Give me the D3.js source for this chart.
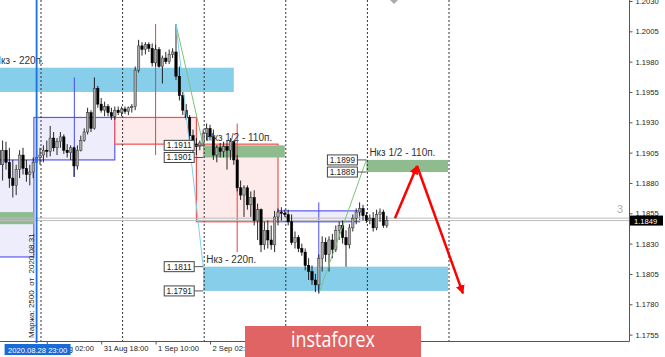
<!DOCTYPE html>
<html>
<head>
<meta charset="utf-8">
<script src="https://cdn.jsdelivr.net/npm/d3@7"></script>
<style>
body { margin: 0; background: #fff; overflow: hidden; }
svg { display: block; font-family: "Liberation Sans", Arial, sans-serif; }
</style>
</head>
<body>
<svg id="chart" width="665" height="357"></svg>
<script>
// EURUSD H1, first bar = 2020.08.28 12:00
const open = [
  1.1907, 1.1895, 1.1907, 1.1897, 1.1884, 1.1878, 1.1891, 1.1903, 1.1892, 1.1887, 1.1889, 1.1897,
  1.1901, 1.1903, 1.1907, 1.1906, 1.1917, 1.1909, 1.1914, 1.1918, 1.1907, 1.1905, 1.1909, 1.1894,
  1.1907, 1.1915, 1.1922, 1.1938, 1.1925, 1.1958, 1.1945, 1.1940, 1.1943, 1.1938, 1.1935, 1.1940,
  1.1938, 1.1941, 1.1939, 1.1942, 1.1943, 1.1973, 1.1993, 1.1990, 1.1994, 1.1991, 1.1979, 1.1990,
  1.1976, 1.1983, 1.1980, 1.1986, 1.1988, 1.1968, 1.1952, 1.1940, 1.1934, 1.1919, 1.1912, 1.1910,
  1.1913, 1.1921, 1.1925, 1.1918, 1.1903, 1.1909, 1.1906, 1.1910, 1.1907, 1.1914, 1.1899, 1.1876,
  1.1870, 1.1876, 1.1862, 1.1868, 1.1849, 1.1858, 1.1829, 1.1841, 1.1833, 1.1829, 1.1852, 1.1856,
  1.1855, 1.1854, 1.1848, 1.1831, 1.1835, 1.1826, 1.1823, 1.1812, 1.1807, 1.1800, 1.1796, 1.1818,
  1.1831, 1.1821, 1.1833, 1.1825, 1.1841, 1.1845, 1.1835, 1.1829, 1.1843, 1.1851, 1.1856, 1.1859,
  1.1853, 1.1849, 1.1851, 1.1843, 1.1854, 1.1856, 1.1845
];
const high = [
  1.1920, 1.1915, 1.1914, 1.1909, 1.1899, 1.1895, 1.1907, 1.1909, 1.1899, 1.1895, 1.1901, 1.1907,
  1.1909, 1.1911, 1.1915, 1.1927, 1.1922, 1.1917, 1.1922, 1.1920, 1.1912, 1.1911, 1.1910, 1.1911,
  1.1919, 1.1925, 1.1942, 1.1940, 1.1967, 1.1960, 1.1950, 1.1947, 1.1945, 1.1942, 1.1943, 1.1943,
  1.1943, 1.1943, 1.1943, 1.1945, 1.1976, 1.1998, 1.1996, 1.1996, 1.1996, 1.1995, 1.1994, 1.1992,
  1.1985, 1.1988, 1.1990, 1.1991, 1.2011, 1.1976, 1.1955, 1.1945, 1.1936, 1.1924, 1.1917, 1.1915,
  1.1924, 1.1929, 1.1928, 1.1924, 1.1911, 1.1913, 1.1914, 1.1915, 1.1917, 1.1915, 1.1903, 1.1882,
  1.1878, 1.1878, 1.1873, 1.1874, 1.1863, 1.1859, 1.1848, 1.1849, 1.1845, 1.1857, 1.1859, 1.1860,
  1.1858, 1.1858, 1.1854, 1.1840, 1.1837, 1.1830, 1.1826, 1.1818, 1.1812, 1.1805, 1.1821, 1.1836,
  1.1835, 1.1836, 1.1838, 1.1845, 1.1848, 1.1849, 1.1841, 1.1846, 1.1854, 1.1859, 1.1864, 1.1862,
  1.1856, 1.1854, 1.1856, 1.1858, 1.1859, 1.1858, 1.1853
];
const low = [
  1.1887, 1.1882, 1.1891, 1.1876, 1.1868, 1.1870, 1.1884, 1.1887, 1.1881, 1.1878, 1.1884, 1.1891,
  1.1895, 1.1897, 1.1901, 1.1902, 1.1906, 1.1903, 1.1909, 1.1904, 1.1901, 1.1899, 1.1885, 1.1891,
  1.1906, 1.1914, 1.1920, 1.1922, 1.1924, 1.1942, 1.1938, 1.1935, 1.1935, 1.1932, 1.1932, 1.1936,
  1.1935, 1.1937, 1.1936, 1.1938, 1.1940, 1.1971, 1.1985, 1.1986, 1.1988, 1.1976, 1.1976, 1.1975,
  1.1962, 1.1978, 1.1978, 1.1983, 1.1965, 1.1948, 1.1936, 1.1932, 1.1915, 1.1905, 1.1903, 1.1907,
  1.1910, 1.1915, 1.1915, 1.1899, 1.1897, 1.1901, 1.1901, 1.1891, 1.1899, 1.1895, 1.1873, 1.1866,
  1.1852, 1.1858, 1.1852, 1.1845, 1.1833, 1.1823, 1.1825, 1.1826, 1.1825, 1.1823, 1.1845, 1.1849,
  1.1852, 1.1845, 1.1829, 1.1826, 1.1823, 1.1820, 1.1808, 1.1800, 1.1796, 1.1790, 1.1789, 1.1807,
  1.1815, 1.1807, 1.1818, 1.1823, 1.1833, 1.1830, 1.1811, 1.1826, 1.1840, 1.1846, 1.1853, 1.1849,
  1.1847, 1.1846, 1.1840, 1.1841, 1.1848, 1.1843, 1.1843
];
const close = [
  1.1895, 1.1907, 1.1897, 1.1884, 1.1878, 1.1891, 1.1903, 1.1892, 1.1887, 1.1889, 1.1897, 1.1901,
  1.1903, 1.1907, 1.1906, 1.1917, 1.1909, 1.1914, 1.1918, 1.1907, 1.1905, 1.1909, 1.1894, 1.1907,
  1.1915, 1.1922, 1.1938, 1.1925, 1.1958, 1.1945, 1.1940, 1.1943, 1.1938, 1.1935, 1.1940, 1.1938,
  1.1941, 1.1939, 1.1942, 1.1943, 1.1973, 1.1993, 1.1990, 1.1994, 1.1991, 1.1979, 1.1990, 1.1976,
  1.1983, 1.1980, 1.1986, 1.1988, 1.1968, 1.1952, 1.1940, 1.1934, 1.1919, 1.1912, 1.1910, 1.1913,
  1.1921, 1.1925, 1.1918, 1.1903, 1.1909, 1.1906, 1.1910, 1.1907, 1.1914, 1.1899, 1.1876, 1.1870,
  1.1876, 1.1862, 1.1868, 1.1849, 1.1858, 1.1829, 1.1841, 1.1833, 1.1829, 1.1852, 1.1856, 1.1855,
  1.1854, 1.1848, 1.1831, 1.1835, 1.1826, 1.1823, 1.1812, 1.1807, 1.1800, 1.1796, 1.1818, 1.1831,
  1.1821, 1.1833, 1.1825, 1.1841, 1.1845, 1.1835, 1.1829, 1.1843, 1.1851, 1.1856, 1.1859, 1.1853,
  1.1849, 1.1851, 1.1843, 1.1854, 1.1856, 1.1845, 1.1849
];

// daily bars (bar index range on the H1 chart)
const dayFrom = [-14, 10.2, 34, 58, 82];
const dayTo = [10.2, 34, 58, 82, 106];
const dayOpen = [1.1819, 1.1899, 1.1934, 1.1912, 1.1848];
const dayHigh = [1.1915, 1.1967, 1.2011, 1.1929, 1.1864];
const dayLow = [1.1810, 1.1885, 1.1903, 1.1823, 1.1789];
const dayClose = [1.1899, 1.1934, 1.1912, 1.1848, 1.1857];

// zones
const zoneFrom = [-14, -2.5, 60, 60, 108];
const zoneTo = [10.2, 69, 84, 132, 132];
const zoneTop = [1.1856, 1.1975, 1.1911, 1.1811, 1.1899];
const zoneBottom = [1.1846, 1.1955, 1.1901, 1.1791, 1.1889];
const zoneType = ["half", "full", "half", "full", "half"];
const zoneLabel = ["", "Нкз - 220п.", "Нкз 1/2 - 110п.", "Нкз - 220п.", "Нкз 1/2 - 110п."];
const zoneTagged = [false, false, true, true, true];

// thin lines from extremes to zones
const legFromIdx = [52, 52, 94];
const legFromPrice = [1.2011, 1.2011, 1.1789];
const legToIdx = [60, 60, 108];
const legToPrice = [1.1911, 1.1811, 1.1899];
const legType = ["half", "full", "half"];

// forecast path
const forecastIdx = [116.4, 122.9, 136.4];
const forecastPrice = [1.1851, 1.1894, 1.1789];

const bid = 1.1849;
const ask = 1.1851;
const separators = [12, 36, 60, 84, 108, 132];
const crossIdx = 11;
const crossLabel = "2020.08.28 23:00";
const priceTicks = [1.2030, 1.2005, 1.1980, 1.1955, 1.1930, 1.1905, 1.1880, 1.1855, 1.1830, 1.1805, 1.1780, 1.1755];
const timeTicks = [14, 30, 46, 62];
const timeLabels = ["31 Aug 02:00", "31 Aug 18:00", "1 Sep 10:00", "2 Sep 02:00"];

const W = 629, H = 341;
const svg = d3.select("#chart");
const xs = d3.scaleLinear().domain([12, 114]).range([40, 386.8]);
const ys = d3.scaleLinear().domain([1.2030, 1.1755]).range([1, 334.6]);

svg.append("defs").append("clipPath").attr("id", "plot")
  .append("rect").attr("width", W).attr("height", H);

const zoneFill = { half: "#8fbc8f", full: "#87ceeb" };
const plot = svg.append("g").attr("clip-path", "url(#plot)");

// daily bodies
const days = dayOpen.map((o, i) => ({ i, o, c: dayClose[i], bull: dayClose[i] > o }));
plot.selectAll(".day").data(days).enter().append("rect")
  .attr("x", d => xs(dayFrom[d.i]))
  .attr("width", d => xs(dayTo[d.i]) - xs(dayFrom[d.i]))
  .attr("y", d => ys(Math.max(d.o, d.c)))
  .attr("height", d => ys(Math.min(d.o, d.c)) - ys(Math.max(d.o, d.c)))
  .attr("fill", d => d.bull ? "#ededfc" : "#fdeaea")
  .attr("stroke", d => d.bull ? "#5a5af0" : "#f25050")
  .attr("stroke-width", 1.2);

// zones
plot.selectAll(".zone").data(zoneTop).enter().append("rect")
  .attr("x", (d, i) => xs(zoneFrom[i]))
  .attr("width", (d, i) => xs(zoneTo[i]) - xs(zoneFrom[i]))
  .attr("y", d => ys(d))
  .attr("height", (d, i) => ys(zoneBottom[i]) - ys(d))
  .attr("fill", (d, i) => zoneFill[zoneType[i]]);

// daily wicks
plot.selectAll(".dwick").data(days).enter().append("line")
  .attr("x1", d => xs((dayFrom[d.i] + dayTo[d.i]) / 2))
  .attr("x2", d => xs((dayFrom[d.i] + dayTo[d.i]) / 2))
  .attr("y1", d => ys(dayHigh[d.i]))
  .attr("y2", d => ys(dayLow[d.i]))
  .attr("stroke", d => d.bull ? "#4a4af0" : "#f03c3c")
  .attr("stroke-width", 1);

// period separators
plot.selectAll(".sep").data(separators).enter().append("line")
  .attr("x1", d => xs(d) + 1).attr("x2", d => xs(d) + 1)
  .attr("y1", 0).attr("y2", H)
  .attr("stroke", "#333").attr("stroke-width", 1)
  .attr("stroke-dasharray", "2,2");

// bid / ask lines
plot.selectAll(".pl").data([ask, bid]).enter().append("line")
  .attr("x1", 0).attr("x2", W)
  .attr("y1", d => ys(d)).attr("y2", d => ys(d))
  .attr("stroke", "#bdbdbd").attr("stroke-width", 1);

// candles
const bars = open.map((o, i) => ({ i, o, h: high[i], l: low[i], c: close[i] }));
plot.selectAll(".wick").data(bars).enter().append("line")
  .attr("x1", d => xs(d.i)).attr("x2", d => xs(d.i))
  .attr("y1", d => ys(d.h)).attr("y2", d => ys(d.l))
  .attr("stroke", "#111").attr("stroke-width", 0.9);
plot.selectAll(".body").data(bars).enter().append("rect")
  .attr("x", d => xs(d.i) - 1.2)
  .attr("width", 2.4)
  .attr("y", d => ys(Math.max(d.o, d.c)))
  .attr("height", d => Math.max(1, Math.abs(ys(d.o) - ys(d.c))))
  .attr("fill", d => d.c >= d.o ? "#a8a8a8" : "#000")
  .attr("stroke", d => d.c >= d.o ? "#333" : "#000")
  .attr("stroke-width", 0.5);

// thin legs
const legColor = { half: "#7cc47c", full: "#7fd0ee" };
plot.selectAll(".leg").data(legFromIdx).enter().append("line")
  .attr("x1", d => xs(d)).attr("y1", (d, i) => ys(legFromPrice[i]))
  .attr("x2", (d, i) => xs(legToIdx[i])).attr("y2", (d, i) => ys(legToPrice[i]))
  .attr("stroke", (d, i) => legColor[legType[i]]).attr("stroke-width", 1);

// zone labels
plot.selectAll(".zlabel").data(zoneLabel).enter().append("text")
  .attr("x", (d, i) => xs(zoneFrom[i]) + 3)
  .attr("y", (d, i) => ys(zoneTop[i]) - 4)
  .attr("font-size", 10).attr("fill", "#333")
  .text(d => d);

// price tags for zones
const tags = [];
zoneTagged.forEach((t, i) => {
  if (!t) return;
  tags.push({ x: xs(zoneFrom[i]), p: zoneTop[i] });
  tags.push({ x: xs(zoneFrom[i]), p: zoneBottom[i] });
});
const tag = plot.selectAll(".tag").data(tags).enter().append("g");
tag.append("line")
  .attr("x1", d => d.x - 9).attr("x2", d => d.x)
  .attr("y1", d => ys(d.p)).attr("y2", d => ys(d.p))
  .attr("stroke", "#555");
tag.append("rect")
  .attr("x", d => d.x - 39).attr("y", d => ys(d.p) - 5)
  .attr("width", 30).attr("height", 10)
  .attr("fill", "#fff").attr("stroke", "#444").attr("stroke-width", 1);
tag.append("text")
  .attr("x", d => d.x - 24).attr("y", d => ys(d.p) + 3)
  .attr("text-anchor", "middle").attr("font-size", 8.3).attr("fill", "#222")
  .text(d => d.p.toFixed(4));

// forecast arrows
svg.select("defs").append("marker")
  .attr("id", "arrow").attr("viewBox", "0 -5 10 10")
  .attr("refX", 9).attr("refY", 0)
  .attr("markerWidth", 3.6).attr("markerHeight", 3.6)
  .attr("orient", "auto")
  .append("path").attr("d", "M0,-5L10,0L0,5Z").attr("fill", "#ff0000");
for (let k = 0; k < forecastIdx.length - 1; k++) {
  plot.append("line")
    .attr("x1", xs(forecastIdx[k])).attr("y1", ys(forecastPrice[k]))
    .attr("x2", xs(forecastIdx[k + 1])).attr("y2", ys(forecastPrice[k + 1]))
    .attr("stroke", "#ff0000").attr("stroke-width", 2.5)
    .attr("marker-end", "url(#arrow)");
}

// misc chart marks
plot.append("text").attr("x", 617).attr("y", 213)
  .attr("font-size", 11).attr("fill", "#b0b0b0").text("3");
plot.append("path").attr("d", "M390,0L398,0L394,4Z").attr("fill", "#aaa");
plot.append("text")
  .attr("transform", "translate(33.5,338) rotate(-90)")
  .attr("font-size", 8).attr("fill", "#222")
  .style("white-space", "pre")
  .text("Маржа: 2500  от  2020.08.31");

// crosshair
svg.append("line")
  .attr("x1", xs(crossIdx)).attr("x2", xs(crossIdx))
  .attr("y1", 0).attr("y2", H + 2)
  .attr("stroke", "#1f6fe0").attr("stroke-width", 1.8);

// frame
svg.append("line").attr("x1", W + 0.5).attr("x2", W + 0.5).attr("y1", 0).attr("y2", H + 0.5)
  .attr("stroke", "#555");
svg.append("line").attr("x1", 0).attr("x2", W + 0.5).attr("y1", H + 0.5).attr("y2", H + 0.5)
  .attr("stroke", "#555");

// price axis
const ay = svg.append("g").attr("transform", `translate(${W + 0.5},0)`)
  .call(d3.axisRight(ys).tickValues(priceTicks).tickFormat(d3.format(".4f")).tickSize(3).tickPadding(3));
ay.select(".domain").remove();
ay.attr("font-family", null).attr("font-size", 7.6);
ay.selectAll("line").attr("stroke", "#555");
ay.selectAll("text").attr("fill", "#222");

// current price tag
svg.append("rect").attr("x", W + 1).attr("y", ys(bid) - 5).attr("width", 33).attr("height", 10).attr("fill", "#000");
svg.append("text").attr("x", W + 5).attr("y", ys(bid) + 3)
  .attr("font-size", 7.6).attr("fill", "#fff").text(bid.toFixed(4));

// time axis
const ax = svg.append("g").attr("transform", `translate(0,${H + 0.5})`)
  .call(d3.axisBottom(xs).tickValues(timeTicks).tickFormat((d, i) => timeLabels[i]).tickSize(3));
ax.select(".domain").remove();
ax.attr("font-family", null).attr("font-size", 7.6);
ax.selectAll("line").attr("stroke", "#555");
ax.selectAll("text").attr("text-anchor", "start").attr("x", 2).attr("y", 4).attr("fill", "#222");

// crosshair time label
const cx = xs(crossIdx);
svg.append("rect").attr("x", cx - 32).attr("y", H + 3).attr("width", 66).attr("height", 11).attr("fill", "#1a6ad8");
svg.append("text").attr("x", cx + 1).attr("y", H + 11.5).attr("text-anchor", "middle")
  .attr("font-size", 7.6).attr("fill", "#fff").text(crossLabel);

// watermark
svg.append("rect").attr("x", 245).attr("y", 326).attr("width", 176).attr("height", 31).attr("fill", "#e06464");
svg.append("text").attr("x", 333).attr("y", 347).attr("text-anchor", "middle")
  .attr("font-family", "'Open Sans', sans-serif").attr("font-size", 22)
  .attr("textLength", 84).attr("lengthAdjust", "spacingAndGlyphs")
  .attr("fill", "#fff").text("instaforex");
</script>
</body>
</html>
